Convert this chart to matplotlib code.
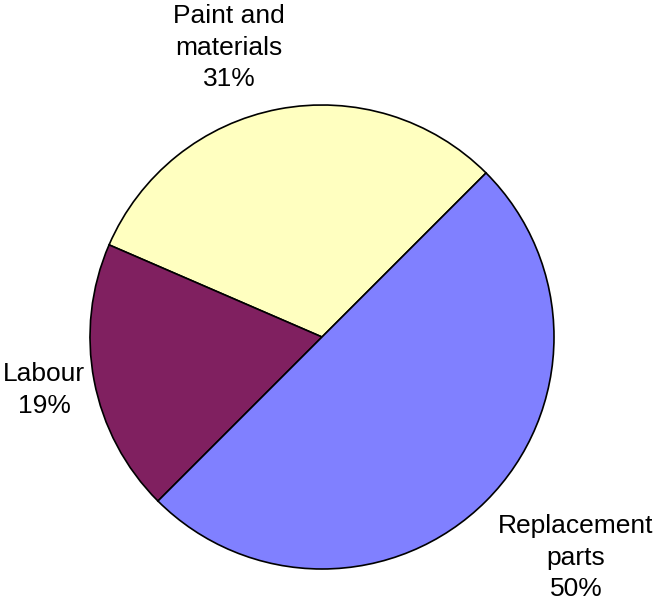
import numpy as np
import matplotlib.pyplot as plt

categories = ['Paint and\nmaterials', 'Labour', 'Replacement\nparts']
shares = [31, 19, 50]
colors = ['#FFFFC0', '#802060', '#8080FF']

# label placement (radius factor, angle shift in degrees) per slice
label_dist = [1.31, 1.22, 1.45]
label_shift = [7, 0, 4]

W, H = 653, 604
cx, cy = 322, 604 - 337
radius = 232

fig = plt.figure(figsize=(W / 100, H / 100), dpi=100)
ax = fig.add_axes([0, 0, 1, 1])

wedges, _ = ax.pie(shares, colors=colors, startangle=45, counterclock=True,
                   radius=radius, frame=True,
                   wedgeprops=dict(edgecolor='black', linewidth=1.2))
ax.set_xlim(-cx, W - cx)
ax.set_ylim(-cy, H - cy)
ax.axis('off')

for w, name, val, d, s in zip(wedges, categories, shares, label_dist, label_shift):
    ang = np.deg2rad((w.theta1 + w.theta2) / 2 + s)
    ax.text(radius * d * np.cos(ang), radius * d * np.sin(ang), f'{name}\n{val}%',
            ha='center', va='center', fontsize=19, family='Liberation Sans',
            linespacing=1.4, color='black')

fig.savefig('out.png', dpi=100)
